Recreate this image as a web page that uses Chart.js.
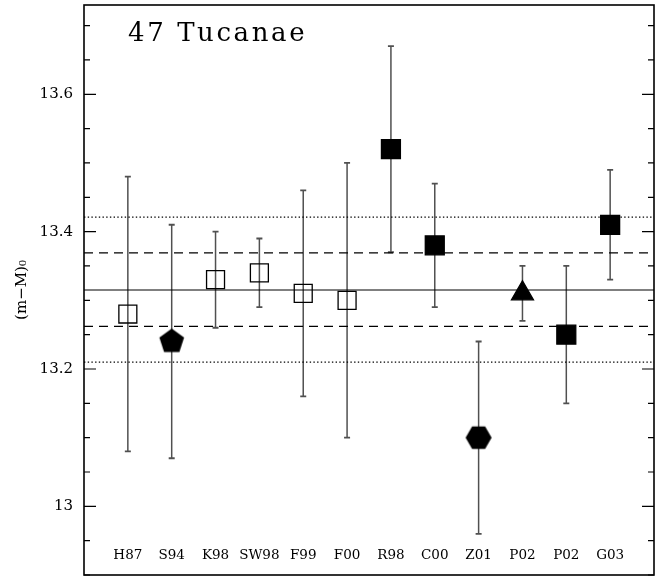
<!DOCTYPE html>
<html>
<head>
<meta charset="utf-8">
<script src="https://cdn.jsdelivr.net/npm/chart.js@4.4.1/dist/chart.umd.min.js"></script>
<style>
  body { margin: 0; background: #fff; }
  #wrap { width: 656px; height: 576px; }
</style>
</head>
<body>
<div id="wrap"><canvas id="distChart" width="656" height="576"></canvas></div>
<script>
// studies along the x axis
const studies = ['H87', 'S94', 'K98', 'SW98', 'F99', 'F00', 'R98', 'C00', 'Z01', 'P02', 'P02', 'G03'];
// distance modulus (m-M)_0 and its error bar
const modulus = [13.28, 13.24, 13.33, 13.34, 13.31, 13.30, 13.52, 13.38, 13.10, 13.31, 13.25, 13.41];
const errors = [0.20, 0.17, 0.07, 0.05, 0.15, 0.20, 0.15, 0.09, 0.14, 0.04, 0.10, 0.08];
// marker used for each study
const markers = ['openSquare', 'pentagon', 'openSquare', 'openSquare', 'openSquare', 'openSquare',
  'square', 'square', 'hexagon', 'triangle', 'square', 'square'];
// mean value and the two bands around it
const meanLevel = 13.315;
const dashedLevels = [13.262, 13.369];
const dottedLevels = [13.21, 13.421];
const yTickLabels = [13, 13.2, 13.4, 13.6];
const yRange = [12.9, 13.73];
const xRange = [0, 13];

const serif = 'DejaVu Serif';

// filled polygon markers (chart.js has no pentagon / hexagon)
function polygonMarker(sides, radius, startAngle) {
  const size = Math.ceil(radius * 2) + 2;
  const c = document.createElement('canvas');
  c.width = size;
  c.height = size;
  const g = c.getContext('2d');
  g.beginPath();
  for (let i = 0; i < sides; i++) {
    const a = startAngle + i * 2 * Math.PI / sides;
    const px = size / 2 + radius * Math.cos(a);
    const py = size / 2 + radius * Math.sin(a);
    if (i === 0) g.moveTo(px, py); else g.lineTo(px, py);
  }
  g.closePath();
  g.fillStyle = '#000';
  g.fill();
  return c;
}
const pentagon = polygonMarker(5, 13, -Math.PI / 2);
const hexagon = polygonMarker(6, 13, 0);

const styleOf = m => m === 'pentagon' ? pentagon : m === 'hexagon' ? hexagon : m === 'triangle' ? 'triangle' : 'rect';
const radiusOf = m => m === 'square' ? 13.4 : 12.7;

function levelLine(y, dash, width) {
  return {
    type: 'line',
    data: [{ x: xRange[0], y: y }, { x: xRange[1], y: y }],
    borderColor: '#000',
    borderWidth: width || 1,
    borderDash: dash,
    pointRadius: 0,
    fill: false
  };
}

// no extra room for labels, the box fills the page
function noPadding(s) {
  s.paddingTop = 0;
  s.paddingBottom = 0;
  s.paddingLeft = 0;
  s.paddingRight = 0;
}

// error bars under the markers
const errorBars = {
  id: 'errorBars',
  beforeDatasetsDraw(chart) {
    const { ctx, scales: { x, y } } = chart;
    ctx.save();
    ctx.strokeStyle = '#505050';
    modulus.forEach((m, i) => {
      const px = x.getPixelForValue(i + 1);
      const lo = y.getPixelForValue(m - errors[i]);
      const hi = y.getPixelForValue(m + errors[i]);
      ctx.lineWidth = 1.5;
      ctx.beginPath();
      ctx.moveTo(px, lo); ctx.lineTo(px, hi);
      ctx.stroke();
      ctx.lineWidth = 1.8;
      ctx.beginPath();
      ctx.moveTo(px - 3, lo); ctx.lineTo(px + 3, lo);
      ctx.moveTo(px - 3, hi); ctx.lineTo(px + 3, hi);
      ctx.stroke();
    });
    ctx.restore();
  }
};

// box, inward ticks on both sides and the cluster name
const frame = {
  id: 'frame',
  afterDraw(chart) {
    const { ctx, chartArea: a, scales: { y } } = chart;
    ctx.save();
    ctx.strokeStyle = '#000';
    ctx.lineWidth = 1.2;
    for (let k = Math.ceil(yRange[0] * 20); k <= Math.floor(yRange[1] * 20); k++) {
      const py = y.getPixelForValue(k / 20);
      const len = k % 4 === 0 ? 12 : 6;
      ctx.beginPath();
      ctx.moveTo(a.left, py); ctx.lineTo(a.left + len, py);
      ctx.moveTo(a.right, py); ctx.lineTo(a.right - len, py);
      ctx.stroke();
    }
    ctx.lineWidth = 1.6;
    ctx.strokeRect(a.left, a.top, a.right - a.left, a.bottom - a.top);

    ctx.fillStyle = '#000';
    ctx.font = '26px "' + serif + '"';
    ctx.letterSpacing = '2.6px';
    ctx.textBaseline = 'alphabetic';
    ctx.fillText('47 Tucanae', a.left + 44, a.top + 36);
    ctx.restore();
  }
};

new Chart(document.getElementById('distChart'), {
  type: 'scatter',
  data: {
    datasets: [
      {
        data: modulus.map((v, i) => ({ x: i + 1, y: v })),
        pointStyle: markers.map(styleOf),
        pointRadius: markers.map(radiusOf),
        pointBackgroundColor: markers.map(m => m === 'openSquare' ? 'rgba(0,0,0,0)' : '#000'),
        pointBorderColor: '#000',
        pointBorderWidth: 1.3
      },
      levelLine(meanLevel, []),
      levelLine(dashedLevels[0], [9, 6], 1.2),
      levelLine(dashedLevels[1], [9, 6], 1.2),
      levelLine(dottedLevels[0], [1.4, 2.3], 1.3),
      levelLine(dottedLevels[1], [1.4, 2.3], 1.3)
    ]
  },
  options: {
    responsive: false,
    animation: false,
    events: [],
    layout: { autoPadding: false, padding: { top: 5, right: 2, left: 0, bottom: 0 } },
    plugins: { legend: { display: false }, tooltip: { enabled: false } },
    scales: {
      x: {
        type: 'linear',
        min: xRange[0],
        max: xRange[1],
        grid: { display: false, drawTicks: false },
        border: { display: false },
        afterBuildTicks: s => { s.ticks = studies.map((_, i) => ({ value: i + 1 })); },
        afterFit: s => { s.height = 1; noPadding(s); },
        ticks: {
          autoSkip: false,
          maxRotation: 0,
          mirror: true,
          padding: 11,
          color: '#000',
          font: { family: serif, size: 13.5 },
          callback: v => studies[v - 1]
        }
      },
      y: {
        min: yRange[0],
        max: yRange[1],
        grid: { display: false, drawTicks: false },
        border: { display: false },
        afterBuildTicks: s => { s.ticks = yTickLabels.map(v => ({ value: v })); },
        afterFit: s => { s.width = 84; noPadding(s); },
        ticks: {
          padding: 11,
          color: '#000',
          font: { family: serif, size: 15 },
          callback: v => String(+v.toFixed(1))
        },
        title: {
          display: true,
          text: '(m−M)₀',
          color: '#000',
          font: { family: serif, size: 15 },
          padding: { top: 13, bottom: 0 }
        }
      }
    }
  },
  plugins: [errorBars, frame]
});
</script>
</body>
</html>
